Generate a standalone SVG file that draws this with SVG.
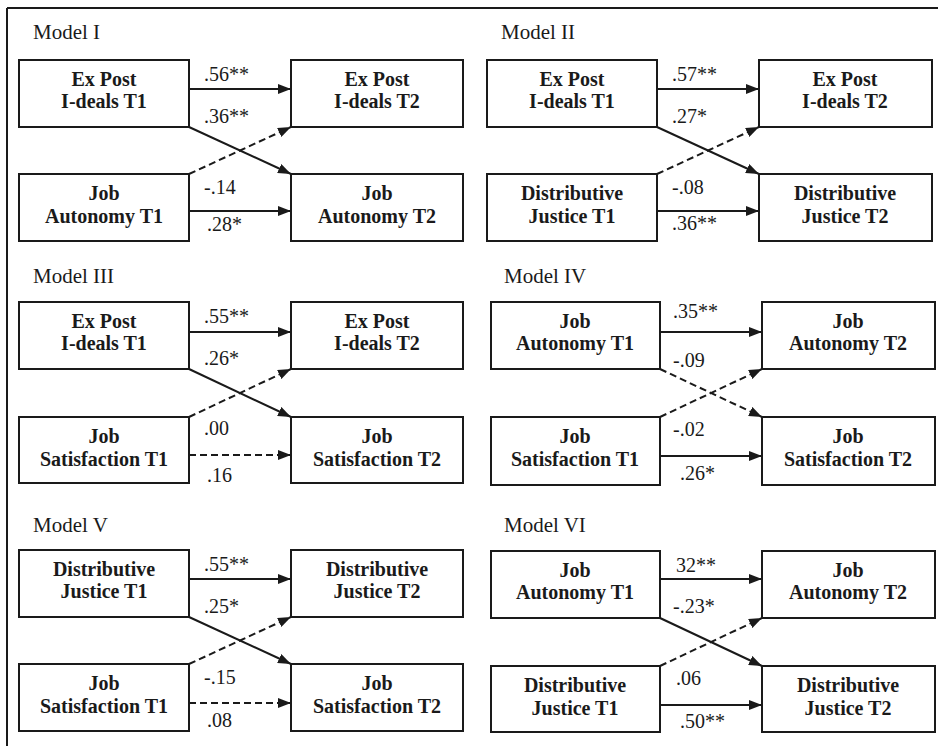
<svg xmlns="http://www.w3.org/2000/svg" width="938" height="746" viewBox="0 0 938 746">
<style>
.bx{fill:#fff;stroke:#1a1a1a;stroke-width:2}
.nt{font-family:"Liberation Serif","Times New Roman",serif;font-size:20px;font-weight:bold;fill:#1a1a1a;text-anchor:middle}
.lb{font-family:"Liberation Serif","Times New Roman",serif;font-size:20px;fill:#1a1a1a}
.ti{font-family:"Liberation Serif","Times New Roman",serif;font-size:21px;fill:#1a1a1a}
.s{stroke:#1a1a1a;stroke-width:2;fill:none;marker-end:url(#ah)}
.d{stroke:#1a1a1a;stroke-width:2;fill:none;stroke-dasharray:7,4;marker-end:url(#ah)}
</style>
<defs>
<marker id="ah" markerUnits="userSpaceOnUse" markerWidth="13" markerHeight="10" refX="13" refY="5" orient="auto">
<path d="M0,0 L13,5 L0,10 z" fill="#1a1a1a"/>
</marker>
</defs>
<rect width="938" height="746" fill="#fff"/>
<g id="frame" stroke="#1a1a1a" stroke-width="2">
<line x1="7" y1="8" x2="938" y2="8"/>
<line x1="7" y1="8" x2="7" y2="746"/>
</g>
<g id="titles">
<text class="ti" x="33" y="39">Model I</text>
<text class="ti" x="501" y="39">Model II</text>
<text class="ti" x="33" y="283">Model III</text>
<text class="ti" x="504" y="283">Model IV</text>
<text class="ti" x="33" y="532">Model V</text>
<text class="ti" x="504" y="532">Model VI</text>
</g>
<g id="connectors">
<!-- Model I -->
<line class="s" x1="189" y1="89" x2="291" y2="89"/>
<line class="s" x1="189" y1="127" x2="291" y2="174"/>
<line class="d" x1="189" y1="174" x2="291" y2="127"/>
<line class="s" x1="189" y1="211" x2="291" y2="211"/>
<!-- Model II -->
<line class="s" x1="657" y1="89" x2="759" y2="89"/>
<line class="s" x1="657" y1="127" x2="759" y2="174"/>
<line class="d" x1="657" y1="174" x2="759" y2="127"/>
<line class="s" x1="657" y1="211" x2="759" y2="211"/>
<!-- Model III -->
<line class="s" x1="189" y1="332" x2="291" y2="332"/>
<line class="s" x1="189" y1="369" x2="291" y2="417"/>
<line class="d" x1="189" y1="417" x2="291" y2="369"/>
<line class="d" x1="189" y1="455" x2="291" y2="455"/>
<!-- Model IV -->
<line class="s" x1="660" y1="332" x2="762" y2="332"/>
<line class="d" x1="660" y1="369" x2="762" y2="417"/>
<line class="d" x1="660" y1="417" x2="762" y2="369"/>
<line class="s" x1="660" y1="456" x2="762" y2="456"/>
<!-- Model V -->
<line class="s" x1="189" y1="579" x2="291" y2="579"/>
<line class="s" x1="189" y1="617" x2="291" y2="664"/>
<line class="d" x1="189" y1="664" x2="291" y2="617"/>
<line class="d" x1="189" y1="703" x2="291" y2="703"/>
<!-- Model VI -->
<line class="s" x1="660" y1="579" x2="762" y2="579"/>
<line class="s" x1="660" y1="618" x2="762" y2="666"/>
<line class="d" x1="660" y1="666" x2="762" y2="618"/>
<line class="s" x1="660" y1="705" x2="762" y2="705"/>
</g>
<g id="labels">
<text class="lb" x="204" y="81">.56**</text>
<text class="lb" x="204" y="123">.36**</text>
<text class="lb" x="204" y="194">-.14</text>
<text class="lb" x="207" y="231">.28*</text>
<text class="lb" x="672" y="81">.57**</text>
<text class="lb" x="672" y="123">.27*</text>
<text class="lb" x="672" y="194">-.08</text>
<text class="lb" x="672" y="230">.36**</text>
<text class="lb" x="204" y="323">.55**</text>
<text class="lb" x="204" y="365">.26*</text>
<text class="lb" x="204" y="435">.00</text>
<text class="lb" x="207" y="482">.16</text>
<text class="lb" x="673" y="318">.35**</text>
<text class="lb" x="673" y="367">-.09</text>
<text class="lb" x="673" y="436">-.02</text>
<text class="lb" x="680" y="480">.26*</text>
<text class="lb" x="204" y="571">.55**</text>
<text class="lb" x="204" y="613">.25*</text>
<text class="lb" x="204" y="684">-.15</text>
<text class="lb" x="207" y="727">.08</text>
<text class="lb" x="676" y="572">32**</text>
<text class="lb" x="673" y="613">-.23*</text>
<text class="lb" x="676" y="685">.06</text>
<text class="lb" x="680" y="728">.50**</text>
</g>
<!-- Model I nodes -->
<g id="m1-a"><rect class="bx" x="19" y="60" width="170" height="67"/><text class="nt" x="104" y="86">Ex Post</text><text class="nt" x="104" y="108">I-deals T1</text></g>
<g id="m1-b"><rect class="bx" x="291" y="60" width="172" height="67"/><text class="nt" x="377" y="86">Ex Post</text><text class="nt" x="377" y="108">I-deals T2</text></g>
<g id="m1-c"><rect class="bx" x="19" y="174" width="170" height="67"/><text class="nt" x="104" y="200">Job</text><text class="nt" x="104" y="223">Autonomy T1</text></g>
<g id="m1-d"><rect class="bx" x="291" y="174" width="172" height="67"/><text class="nt" x="377" y="200">Job</text><text class="nt" x="377" y="223">Autonomy T2</text></g>
<!-- Model II nodes -->
<g id="m2-a"><rect class="bx" x="487" y="60" width="170" height="67"/><text class="nt" x="572" y="86">Ex Post</text><text class="nt" x="572" y="108">I-deals T1</text></g>
<g id="m2-b"><rect class="bx" x="759" y="60" width="173" height="67"/><text class="nt" x="845" y="86">Ex Post</text><text class="nt" x="845" y="108">I-deals T2</text></g>
<g id="m2-c"><rect class="bx" x="487" y="174" width="170" height="67"/><text class="nt" x="572" y="200">Distributive</text><text class="nt" x="572" y="223">Justice T1</text></g>
<g id="m2-d"><rect class="bx" x="759" y="174" width="173" height="67"/><text class="nt" x="845" y="200">Distributive</text><text class="nt" x="845" y="223">Justice T2</text></g>
<!-- Model III nodes -->
<g id="m3-a"><rect class="bx" x="19" y="302" width="170" height="67"/><text class="nt" x="104" y="328">Ex Post</text><text class="nt" x="104" y="350">I-deals T1</text></g>
<g id="m3-b"><rect class="bx" x="291" y="302" width="172" height="67"/><text class="nt" x="377" y="328">Ex Post</text><text class="nt" x="377" y="350">I-deals T2</text></g>
<g id="m3-c"><rect class="bx" x="19" y="417" width="170" height="66"/><text class="nt" x="104" y="443">Job</text><text class="nt" x="104" y="466">Satisfaction T1</text></g>
<g id="m3-d"><rect class="bx" x="291" y="417" width="172" height="66"/><text class="nt" x="377" y="443">Job</text><text class="nt" x="377" y="466">Satisfaction T2</text></g>
<!-- Model IV nodes -->
<g id="m4-a"><rect class="bx" x="491" y="302" width="169" height="67"/><text class="nt" x="575" y="328">Job</text><text class="nt" x="575" y="350">Autonomy T1</text></g>
<g id="m4-b"><rect class="bx" x="762" y="302" width="173" height="67"/><text class="nt" x="848" y="328">Job</text><text class="nt" x="848" y="350">Autonomy T2</text></g>
<g id="m4-c"><rect class="bx" x="491" y="417" width="169" height="68"/><text class="nt" x="575" y="443">Job</text><text class="nt" x="575" y="466">Satisfaction T1</text></g>
<g id="m4-d"><rect class="bx" x="762" y="417" width="173" height="68"/><text class="nt" x="848" y="443">Job</text><text class="nt" x="848" y="466">Satisfaction T2</text></g>
<!-- Model V nodes -->
<g id="m5-a"><rect class="bx" x="19" y="550" width="170" height="67"/><text class="nt" x="104" y="576">Distributive</text><text class="nt" x="104" y="598">Justice T1</text></g>
<g id="m5-b"><rect class="bx" x="291" y="550" width="172" height="67"/><text class="nt" x="377" y="576">Distributive</text><text class="nt" x="377" y="598">Justice T2</text></g>
<g id="m5-c"><rect class="bx" x="19" y="664" width="170" height="67"/><text class="nt" x="104" y="690">Job</text><text class="nt" x="104" y="713">Satisfaction T1</text></g>
<g id="m5-d"><rect class="bx" x="291" y="664" width="172" height="67"/><text class="nt" x="377" y="690">Job</text><text class="nt" x="377" y="713">Satisfaction T2</text></g>
<!-- Model VI nodes -->
<g id="m6-a"><rect class="bx" x="491" y="551" width="169" height="67"/><text class="nt" x="575" y="577">Job</text><text class="nt" x="575" y="599">Autonomy T1</text></g>
<g id="m6-b"><rect class="bx" x="762" y="551" width="173" height="67"/><text class="nt" x="848" y="577">Job</text><text class="nt" x="848" y="599">Autonomy T2</text></g>
<g id="m6-c"><rect class="bx" x="491" y="666" width="169" height="66"/><text class="nt" x="575" y="692">Distributive</text><text class="nt" x="575" y="715">Justice T1</text></g>
<g id="m6-d"><rect class="bx" x="762" y="666" width="173" height="66"/><text class="nt" x="848" y="692">Distributive</text><text class="nt" x="848" y="715">Justice T2</text></g>
</svg>
